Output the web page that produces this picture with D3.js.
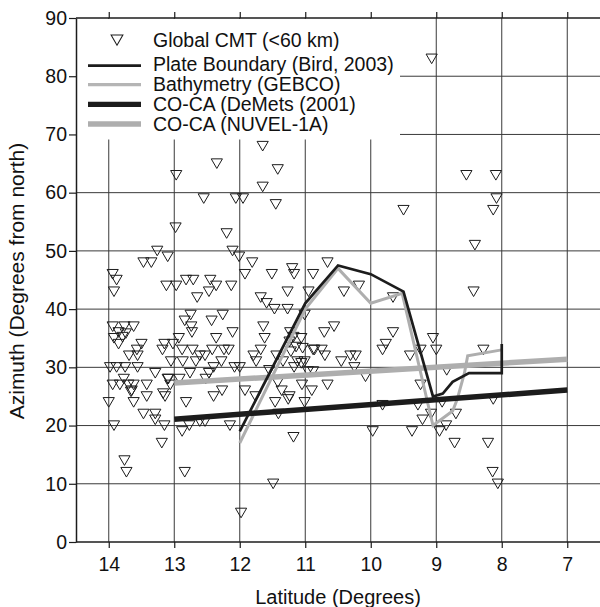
<!DOCTYPE html>
<html><head><meta charset="utf-8">
<script src="https://cdnjs.cloudflare.com/ajax/libs/d3/7.8.5/d3.min.js"></script>
<style>
html,body{margin:0;padding:0;background:#fff;}
svg{display:block;font-family:"Liberation Sans",Arial,Helvetica,sans-serif;}
</style></head>
<body><svg id="c" width="600" height="607"></svg>
<script>
// ---------- DATA ----------
const xTicks = [14, 13, 12, 11, 10, 9, 8, 7];
const yTicks = [0, 10, 20, 30, 40, 50, 60, 70, 80, 90];
const xTitle = "Latitude (Degrees)";
const yTitle = "Azimuth (Degrees from north)";
const legendLabels = ["Global CMT (<60 km)", "Plate Boundary (Bird, 2003)", "Bathymetry (GEBCO)", "CO-CA (DeMets (2001)", "CO-CA (NUVEL-1A)"];

// Global CMT events: [latitude, azimuth]
const cmtPoints = [
 [9.07,83],[11.65,68],[12.35,65],[11.42,64],[12.97,63],[11.65,61],[8.54,63],[8.09,63],[8.08,59],[8.13,57],
 [12.55,59],[12.06,59],[11.95,59],[11.45,58],[9.5,57],[8.41,51],[12.98,54],[12.2,53],[13.26,50],[13.1,49],
 [13.47,48],[13.35,48],[12.11,50],[12.01,49],[11.81,48],[13.94,46],[13.88,45],[13.92,43],[13.12,44],[12.97,44],
 [12.82,45],[12.71,45],[12.65,42],[12.45,45],[12.36,44],[12.47,43],[12.13,44],[11.92,46],[11.51,46],[11.2,47],
 [11.17,46],[10.88,46],[10.66,48],[11.27,43],[10.95,43],[10.41,43],[10.18,44],[9.66,42],[8.43,43],[11.68,42],
 [11.59,41],[11.47,40],[11.27,40],[11.01,39],[12.26,39],[12.75,39],[12.84,38],[12.74,37],[12.73,36],[12.43,38],
 [12.36,35],[12.11,36],[11.64,37],[11.62,35],[11.23,36],[11.18,35.2],[11.06,35],[10.71,36],[10.56,37],[9.66,36],
 [9.77,34],[9.82,33],[9.05,35],[9.0,33],[9.24,33],[9.4,32],[8.28,33],[10.88,33],[10.75,33],[10.7,32],
 [10.45,31],[10.31,32],[10.23,32],[10.25,30],[10.08,28.4],[8.84,29.5],[11.24,34.4],[11.14,33.5],[11.22,32.7],[11.04,33.3],
 [10.86,33],[11.01,31],[11.17,30],[11.06,30.7],[11.12,31],[11.68,33],[11.79,32],[11.75,31],[11.44,32],[11.34,31],
 [11.55,29.5],[12.08,30],[12.0,30],[12.17,33],[12.28,31],[12.4,30],[12.47,29],[12.42,33],[12.24,33],[12.61,32],
 [12.53,32],[12.72,33],[12.88,33],[12.67,31],[12.87,31],[13.05,31],[12.76,29],[12.93,35],[13.02,34],[13.15,34],
 [13.18,33],[13.5,34],[13.57,33],[13.69,32],[13.56,32],[13.94,37],[13.76,37],[13.62,37],[13.85,36],[13.74,35.8],
 [13.79,35.2],[13.92,35],[13.85,34],[13.98,30],[13.88,30],[13.75,30],[13.56,30],[13.29,29],[13.09,28],[13.06,27],
 [13.17,25.5],[13.94,27],[13.83,27],[13.77,28],[13.7,27],[13.62,27],[13.65,26],[13.42,27],[13.1,28],[12.92,28],
 [12.52,28],[12.27,26],[12.4,25],[13.66,25.8],[13.42,25],[13.14,25],[14.0,24],[13.62,24],[12.82,24],[13.47,22],
 [13.29,22],[13.29,21],[13.15,20],[13.92,20],[12.88,19],[12.77,20],[12.61,20.7],[12.53,20.7],[12.15,20],[13.19,17],
 [13.76,14],[13.73,12],[12.84,12],[11.98,5],[11.49,10],[11.18,18],[11.41,22],[11.46,24],[11.26,24.5],[11.42,27.4],
 [11.92,26],[11.76,25],[11.36,26],[11.24,25],[11.05,27],[10.9,26],[11.01,24],[10.66,27],[10.96,29.3],[10.88,29.3],
 [9.97,19],[9.24,27],[9.28,23.5],[9.82,23.5],[8.91,24],[8.13,24.5],[9.08,22],[8.7,22],[9.21,21],[8.85,20],
 [8.95,19],[9.37,19],[8.72,17],[8.21,17],[8.14,12],[8.06,10]
];

// Plate boundary (Bird, 2003)
const plateLat = [12.0, 11.0, 10.5, 10.0, 9.5, 9.05, 8.9, 8.75, 8.5, 8.0, 8.0];
const plateAz  = [19.0, 41.0, 47.5, 46.0, 43.0, 25.0, 25.5, 27.5, 29.0, 29.0, 34.0];
// Bathymetry (GEBCO)
const bathyLat = [12.0, 11.0, 10.5, 10.0, 9.52, 9.05, 8.75, 8.68, 8.57, 8.52, 8.0];
const bathyAz  = [17.0, 40.0, 47.0, 41.0, 42.7, 20.0, 22.5, 24.5, 29.0, 32.0, 33.0];
// CO-CA DeMets (2001)
const demetsLat = [13, 7];
const demetsAz  = [21.1, 26.1];
// CO-CA NUVEL-1A
const nuvelLat = [13, 7];
const nuvelAz  = [27.3, 31.4];

// ---------- CHART ----------
const svg = d3.select("#c");
const x = d3.scaleLinear().domain([14.5, 6.5]).range([76, 600]);
const y = d3.scaleLinear().domain([0, 90]).range([542, 18]);
const FS = 19.5;
const BLACK = "#1c1c1c", GRAY = "#aeaeae", GRID = "#3a3a3a";

// grid
const grid = svg.append("g");
grid.selectAll("line.v").data(xTicks).join("line")
  .attr("x1", d => x(d)).attr("x2", d => x(d)).attr("y1", y(90)).attr("y2", y(0))
  .attr("stroke", GRID).attr("stroke-width", 1);
grid.selectAll("line.h").data(yTicks.filter(d => d > 0 && d < 90)).join("line")
  .attr("x1", x(14.5)).attr("x2", 600).attr("y1", d => y(d)).attr("y2", d => y(d))
  .attr("stroke", GRID).attr("stroke-width", 1);

// legend background
svg.append("rect").attr("x", 77).attr("y", 19).attr("width", 323).attr("height", 120.5).attr("fill", "#fff");

// CMT triangles
const tri = "M-5.6,-4.7L5.6,-4.7L0,4.9Z";
svg.append("g").selectAll("path").data(cmtPoints).join("path")
  .attr("d", tri)
  .attr("transform", d => `translate(${x(d[0])},${y(d[1])})`)
  .attr("fill", "none").attr("stroke", BLACK).attr("stroke-width", 1);

const zip = (a, b) => a.map((v, i) => [v, b[i]]);
const line = d3.line().x(d => x(d[0])).y(d => y(d[1]));

svg.append("path").datum(zip(nuvelLat, nuvelAz)).attr("d", line)
  .attr("fill", "none").attr("stroke", GRAY).attr("stroke-width", 5.5);
svg.append("path").datum(zip(bathyLat, bathyAz)).attr("d", line)
  .attr("fill", "none").attr("stroke", GRAY).attr("stroke-width", 3).attr("stroke-linejoin", "miter");
svg.append("path").datum(zip(demetsLat, demetsAz)).attr("d", line)
  .attr("fill", "none").attr("stroke", BLACK).attr("stroke-width", 5.5);
svg.append("path").datum(zip(plateLat, plateAz)).attr("d", line)
  .attr("fill", "none").attr("stroke", BLACK).attr("stroke-width", 2.7).attr("stroke-linejoin", "miter");

// axes
const xb = svg.append("g").attr("transform", `translate(0,${y(0)})`)
  .call(d3.axisBottom(x).tickValues(xTicks).tickFormat(d3.format("d")).tickSize(6).tickPadding(9).tickSizeOuter(0));
const xt = svg.append("g").attr("transform", `translate(0,${y(90)})`)
  .call(d3.axisTop(x).tickValues(xTicks).tickFormat("").tickSize(6).tickSizeOuter(0));
const yl = svg.append("g").attr("transform", `translate(${x(14.5)},0)`)
  .call(d3.axisLeft(y).tickValues(yTicks).tickFormat(d3.format("d")).tickSize(7).tickPadding(2).tickSizeOuter(0));
[xb, xt, yl].forEach(g => {
  g.select(".domain").attr("stroke", BLACK).attr("stroke-width", 1.5);
  g.selectAll(".tick line").attr("stroke", BLACK).attr("stroke-width", 1.2);
  g.selectAll(".tick text").attr("fill", "#111").style("font-size", FS + "px")
    .style("font-family", "'Liberation Sans',Arial,sans-serif");
});
// extend top/bottom frame to right edge
xb.select(".domain").attr("d", `M${x(14.5)},0H600`);
xt.select(".domain").attr("d", `M${x(14.5)},0H600`);

// titles
svg.append("text").attr("x", 338).attr("y", 604).attr("text-anchor", "middle")
  .style("font-size", "20px").attr("fill", "#111").text(xTitle);
svg.append("text").attr("transform", "translate(23.5,281) rotate(-90)").attr("text-anchor", "middle")
  .style("font-size", "21px").attr("fill", "#111").text(yTitle);

// legend
const lg = svg.append("g");
const rowsY = [40, 65.7, 84.7, 104.3, 124];
const textY = [47, 70.5, 91, 111, 130.7];
const lstyles = [null, [BLACK, 2.7], ["#b5b5b5", 3.3], [BLACK, 5.3], [GRAY, 5.3]];
legendLabels.forEach((lab, i) => {
  if (i === 0) {
    lg.append("path").attr("d", tri).attr("transform", `translate(117,${rowsY[0]}) scale(1.05)`)
      .attr("fill", "none").attr("stroke", BLACK).attr("stroke-width", 1);
  } else {
    lg.append("line").attr("x1", 88).attr("x2", 141).attr("y1", rowsY[i]).attr("y2", rowsY[i])
      .attr("stroke", lstyles[i][0]).attr("stroke-width", lstyles[i][1]);
  }
  lg.append("text").attr("x", 153).attr("y", textY[i]).style("font-size", FS + "px")
    .attr("fill", "#111").text(lab);
});
</script></body></html>
